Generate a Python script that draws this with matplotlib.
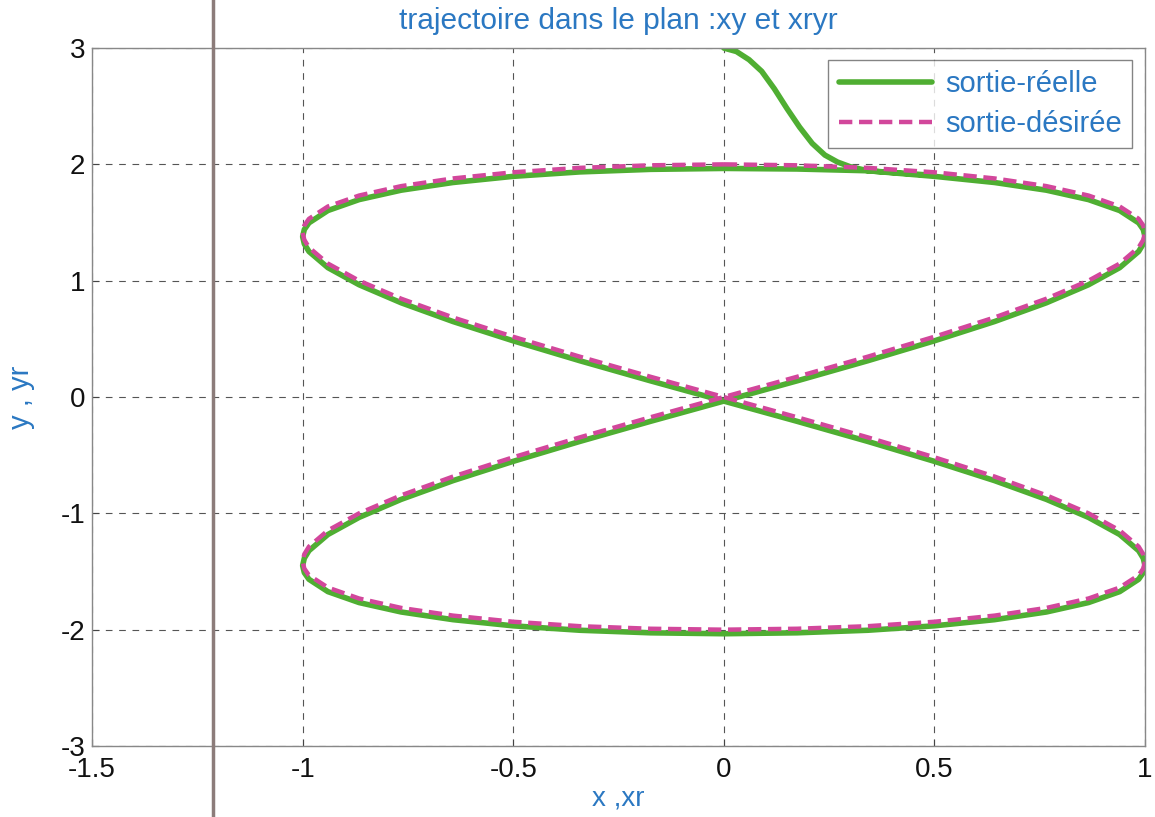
import matplotlib.pyplot as plt
from matplotlib.lines import Line2D

# desired trajectory (xr, yr)
xr = [0.000, 0.174, 0.342, 0.500, 0.643, 0.766, 0.866, 0.940, 0.985, 0.996, 1.000,
      0.996, 0.985, 0.940, 0.866, 0.766, 0.643, 0.500, 0.342, 0.174, 0.000,
      -0.174, -0.342, -0.500, -0.643, -0.766, -0.866, -0.940, -0.985, -0.996, -1.000,
      -0.996, -0.985, -0.940, -0.866, -0.766, -0.643, -0.500, -0.342, -0.174, 0.000,
      0.174, 0.342, 0.500, 0.643, 0.766, 0.866, 0.940, 0.985, 0.996, 1.000,
      0.996, 0.985, 0.940, 0.866, 0.766, 0.643, 0.500, 0.342, 0.174, 0.000,
      -0.174, -0.342, -0.500, -0.643, -0.766, -0.866, -0.940, -0.985, -0.996, -1.000,
      -0.996, -0.985, -0.940, -0.866, -0.766, -0.643, -0.500, -0.342, -0.174, 0.000]
yr = [2.000, 1.992, 1.970, 1.932, 1.879, 1.813, 1.732, 1.638, 1.532, 1.475, 1.414,
      1.351, 1.286, 1.147, 1.000, 0.845, 0.684, 0.518, 0.347, 0.174, 0.000,
      -0.174, -0.347, -0.518, -0.684, -0.845, -1.000, -1.147, -1.286, -1.351, -1.414,
      -1.475, -1.532, -1.638, -1.732, -1.813, -1.879, -1.932, -1.970, -1.992, -2.000,
      -1.992, -1.970, -1.932, -1.879, -1.813, -1.732, -1.638, -1.532, -1.475, -1.414,
      -1.351, -1.286, -1.147, -1.000, -0.845, -0.684, -0.518, -0.347, -0.174, 0.000,
      0.174, 0.347, 0.518, 0.684, 0.845, 1.000, 1.147, 1.286, 1.351, 1.414,
      1.475, 1.532, 1.638, 1.732, 1.813, 1.879, 1.932, 1.970, 1.992, 2.000]

# real output (x, y), starting from (0, 3)
x = [0.00, 0.03, 0.06, 0.09, 0.12, 0.15, 0.18, 0.21, 0.24, 0.27, 0.30,
     0.342, 0.500, 0.643, 0.766, 0.866, 0.940, 0.985, 0.996, 1.000,
     0.996, 0.985, 0.940, 0.866, 0.766, 0.643, 0.500, 0.342, 0.174, 0.000,
     -0.174, -0.342, -0.500, -0.643, -0.766, -0.866, -0.940, -0.985, -0.996, -1.000,
     -0.996, -0.985, -0.940, -0.866, -0.766, -0.643, -0.500, -0.342, -0.174, 0.000,
     0.174, 0.342, 0.500, 0.643, 0.766, 0.866, 0.940, 0.985, 0.996, 1.000,
     0.996, 0.985, 0.940, 0.866, 0.766, 0.643, 0.500, 0.342, 0.174, 0.000,
     -0.174, -0.342, -0.500, -0.643, -0.766, -0.866, -0.940, -0.985, -0.996, -1.000,
     -0.996, -0.985, -0.940, -0.866, -0.766, -0.643, -0.500, -0.342, -0.174, 0.000,
     0.174, 0.342, 0.500]
y = [3.00, 2.97, 2.90, 2.80, 2.65, 2.48, 2.32, 2.18, 2.08, 2.02, 1.98,
     1.945, 1.897, 1.844, 1.778, 1.697, 1.603, 1.497, 1.440, 1.379,
     1.316, 1.251, 1.112, 0.965, 0.810, 0.649, 0.483, 0.312, 0.139, -0.035,
     -0.209, -0.382, -0.553, -0.719, -0.880, -1.035, -1.182, -1.321, -1.386, -1.449,
     -1.510, -1.567, -1.673, -1.767, -1.848, -1.914, -1.967, -2.005, -2.027, -2.035,
     -2.027, -2.005, -1.967, -1.914, -1.848, -1.767, -1.673, -1.567, -1.510, -1.449,
     -1.386, -1.321, -1.182, -1.035, -0.880, -0.719, -0.553, -0.382, -0.209, -0.035,
     0.139, 0.312, 0.483, 0.649, 0.810, 0.965, 1.112, 1.251, 1.316, 1.379,
     1.440, 1.497, 1.603, 1.697, 1.778, 1.844, 1.897, 1.935, 1.957, 1.965,
     1.960, 1.945, 1.905]

xticks = [-1.5, -1, -0.5, 0, 0.5, 1]
xticklabels = ['-1.5', '-1', '-0.5', '0', '0.5', '1']
yticks = [-3, -2, -1, 0, 1, 2, 3]

blue = '#2b78c2'
green = '#4fae32'
magenta = '#d2479b'

plt.rcParams['font.family'] = ['Liberation Sans', 'DejaVu Sans']
plt.rcParams['axes.unicode_minus'] = False

fig = plt.figure(figsize=(11.55, 8.17), dpi=100)
ax = fig.add_axes([0.0797, 0.0869, 0.9116, 0.8543])

ax.plot(x, y, color=green, lw=4.0, label='sortie-réelle',
        solid_joinstyle='round', solid_capstyle='round')
ax.plot(xr, yr, color=magenta, lw=3.2, ls=(0, (3.0, 1.5)), label='sortie-désirée')

ax.set_xlim(-1.5, 1)
ax.set_ylim(-3, 3)
ax.set_xticks(xticks)
ax.set_xticklabels(xticklabels)
ax.set_yticks(yticks)
ax.tick_params(direction='in', length=5, labelsize=20, colors='#444',
               labelcolor='#111', pad=5)
ax.tick_params(axis='x', pad=8)
ax.grid(True, color='#555', ls=(0, (6, 6)), lw=0.8)
for s in ax.spines.values():
    s.set_color('#888')
    s.set_linewidth(1.0)

ax.set_title('trajectoire dans le plan :xy et xryr', color=blue, fontsize=21.5, pad=14)
ax.set_xlabel('x ,xr', color=blue, fontsize=20, labelpad=2)
ax.set_ylabel('y , yr', color=blue, fontsize=21, labelpad=18)

leg = ax.legend(loc='upper right', fontsize=21, handlelength=3.2, frameon=True,
                fancybox=False, edgecolor='#666', borderpad=0.35, labelspacing=0.4,
                handletextpad=0.45, borderaxespad=0,
                bbox_to_anchor=(0.9877, 0.9828))
leg.get_frame().set_linewidth(1.0)
for t in leg.get_texts():
    t.set_color(blue)

# page fold line running down the sheet
fig.add_artist(Line2D([213 / 1155, 213 / 1155], [0, 1], transform=fig.transFigure,
                      color='#8c7c7a', lw=2.5))

fig.savefig('out.png', dpi=100)
